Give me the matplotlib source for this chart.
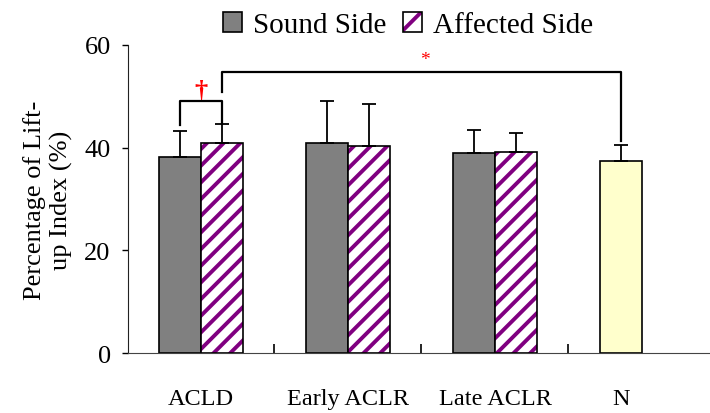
import matplotlib
matplotlib.use("Agg")
import matplotlib.pyplot as plt
from matplotlib.patches import Patch
from matplotlib.legend_handler import HandlerTuple
import numpy as np

categories = ["ACLD", "Early ACLR", "Late ACLR", "N"]
sound_vals = [38.2, 40.9, 39.0]
sound_err = [5.0, 8.2, 4.4]
affected_vals = [40.9, 40.3, 39.2]
affected_err = [3.7, 8.2, 3.7]
n_val = 37.4
n_err = 3.1
yticks = [0, 20, 40, 60]

plt.rcParams['font.family'] = ['Liberation Serif', 'DejaVu Serif']
plt.rcParams['hatch.linewidth'] = 2.8

PURPLE = '#800080'

fig = plt.figure(figsize=(7.1, 4.14), dpi=100)
ax = fig.add_axes([0.1803, 0.1449, 0.8197, 0.744])

pos = np.array([0.0, 1.0, 2.0, 2.86])
w = 0.286

ax.bar(pos[:3] - w / 2, sound_vals, width=w, color='#808080', edgecolor='black', linewidth=1.2, zorder=2)
# hatched fill (purple stripes) then black outline on top
ax.bar(pos[:3] + w / 2, affected_vals, width=w, color='white', edgecolor=PURPLE, linewidth=0,
       hatch='//', zorder=2)
ax.bar(pos[:3] + w / 2, affected_vals, width=w, fill=False, edgecolor='black', linewidth=1.2, zorder=2.1)
ax.bar(pos[3], n_val, width=w, color='#FFFFCC', edgecolor='black', linewidth=1.2, zorder=2)

ekw = dict(fmt='none', ecolor='black', elinewidth=1.3, capsize=4.7, capthick=1.3, zorder=3)
ax.errorbar(pos[:3] - w / 2, sound_vals, yerr=[[0] * 3, sound_err], **ekw)
ax.errorbar(pos[:3] + w / 2, affected_vals, yerr=[[0] * 3, affected_err], **ekw)
ax.errorbar([pos[3]], [n_val], yerr=[[0], [n_err]], **ekw)

# significance brackets
lk = dict(color='black', lw=1.6, zorder=4, clip_on=False)
x1, x2 = pos[0] - w / 2, pos[0] + w / 2
ax.plot([x1, x1, x2, x2], [44.4, 49.1, 49.1, affected_vals[0] + affected_err[0]], **lk)
ax.text(pos[0], 48.9, '†', color='red', fontsize=19, fontweight='bold', ha='center', va='bottom')

xn = pos[3]
ax.plot([x2, x2, xn, xn], [50.8, 54.7, 54.7, 41.3], **lk)
ax.text((x2 + xn) / 2 + 0.02, 55.5, '*', color='red', fontsize=14, ha='center', va='bottom')

ax.set_xlim(-0.4966, 3.463)
ax.set_ylim(0, 60)
ax.set_yticks(yticks)
ax.set_yticklabels([str(v) for v in yticks], fontsize=19)
ax.set_xticks([0.5, 1.5, 2.5])
ax.set_xticklabels([])
ax.tick_params(axis='x', direction='in', length=6.5, width=1.2)
ax.tick_params(axis='y', direction='out', length=4.5, width=1, pad=8)
for i, c in enumerate(categories):
    ax.text(pos[i], -6.9, c, fontsize=17.5, ha='center', va='top', transform=ax.transData)

for s in ['top', 'right']:
    ax.spines[s].set_visible(False)
ax.spines['left'].set_color('#222222')
ax.spines['bottom'].set_color('#444444')

ax.set_ylabel('Percentage of Lift-\nup Index (%)', fontsize=19, linespacing=1.25, labelpad=8)

h_sound = Patch(facecolor='#808080', edgecolor='black', linewidth=1.2)
h_aff_fill = Patch(facecolor='white', edgecolor=PURPLE, linewidth=0, hatch='/')
h_aff_edge = Patch(fill=False, edgecolor='black', linewidth=1.2)
fig.legend([h_sound, (h_aff_fill, h_aff_edge)], ['Sound Side', 'Affected Side'],
           handler_map={tuple: HandlerTuple(ndivide=1, pad=0)},
           loc='center', bbox_to_anchor=(408 / 710, 1 - 26 / 414),
           ncol=2, frameon=False, fontsize=21, handlelength=0.65, handleheight=0.7, handletextpad=0.38,
           columnspacing=0.58, borderpad=0)

fig.savefig('out.png', dpi=100)
